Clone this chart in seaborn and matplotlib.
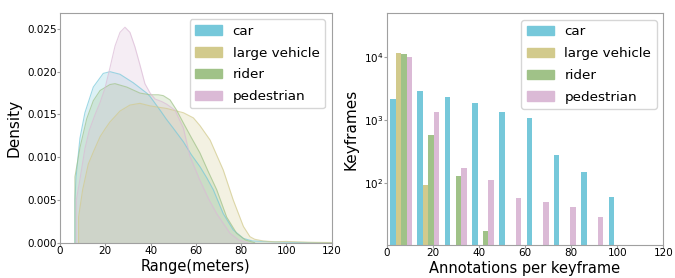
import numpy as np
import pandas as pd
import matplotlib
matplotlib.use("Agg")
import matplotlib.pyplot as plt
from matplotlib.patches import Patch
import seaborn as sns

classes = ["car", "large vehicle", "rider", "pedestrian"]
colors = ["#76c8da", "#d2ca8c", "#a0c288", "#dbbad6"]

# density curves (range in meters, density)
car_x = [6.6, 6.6, 7.1, 8.8, 11, 14.7, 19.1, 22.1, 26.5, 32.4, 38.3, 39.8, 44.2, 47.1, 50, 54.5, 58, 61.8, 64.8, 67.7, 72.1, 76.5, 81, 85, 95, 105, 120]
car_d = [0, 0.0050, 0.0077, 0.0122, 0.0152, 0.0182, 0.0198, 0.0200, 0.0197, 0.0187, 0.0175, 0.0171, 0.0155, 0.0144, 0.0134, 0.0118, 0.0103, 0.0089, 0.0076, 0.0062, 0.0034, 0.0015, 0.0005, 0.0002, 0.0001, 0.00003, 0]
lv_x = [8.2, 8.2, 10, 12.5, 14.7, 17.7, 19.9, 22, 26.5, 30.9, 35.3, 39.8, 47.1, 54.5, 58.9, 61.8, 66.3, 72.1, 76.5, 81, 83.9, 86, 89.8, 95, 100, 105, 110, 120]
lv_d = [0, 0.0030, 0.0062, 0.0092, 0.0106, 0.0124, 0.0133, 0.0141, 0.0154, 0.0161, 0.0163, 0.0160, 0.0157, 0.0152, 0.0146, 0.0137, 0.0120, 0.0085, 0.0050, 0.0019, 0.0007, 0.0004, 0.0002, 0.0001, 0.00015, 0.0001, 0.00005, 0.00002]
rider_x = [6.6, 6.6, 8.8, 11.8, 14.7, 17.7, 22.1, 24.3, 29.5, 35.3, 39.8, 43.4, 45.6, 48.6, 51.5, 54.5, 58, 61.8, 65.5, 69.2, 73.6, 78, 82, 86]
rider_d = [0, 0.0077, 0.0111, 0.0145, 0.0166, 0.0178, 0.0185, 0.0186, 0.0182, 0.0175, 0.0173, 0.0173, 0.0172, 0.0167, 0.0155, 0.0140, 0.0123, 0.0105, 0.0083, 0.0062, 0.0030, 0.0011, 0.0003, 0]
ped_x = [7.2, 7.2, 8.8, 11, 13, 15.5, 17.7, 19.9, 22.1, 24.3, 26.5, 28.7, 30.9, 33.1, 35.3, 37.5, 39.8, 42, 45, 47.1, 50.8, 54.5, 57.4, 61.8, 65.5, 69.2, 75.1, 79, 83]
ped_d = [0, 0.0050, 0.0074, 0.0110, 0.0132, 0.0150, 0.0164, 0.0181, 0.0205, 0.0230, 0.0246, 0.0252, 0.0246, 0.0229, 0.0208, 0.0186, 0.0175, 0.0168, 0.0165, 0.0162, 0.0155, 0.0134, 0.0101, 0.0073, 0.0052, 0.0034, 0.0011, 0.0003, 0]

# histogram of annotations per keyframe (right panel)
bin_edges = [0.3, 12.15, 24.0, 35.85, 47.7, 59.55, 71.4, 83.25, 95.1, 106.95]
car_frames = [2130, 2850, 2290, 1840, 1340, 1060, 272, 151, 60]
lv_frames = [11700, 92, 0, 0, 0, 0, 0, 0, 0]
rider_frames = [11000, 578, 129, 17, 0, 0, 0, 0, 0]
ped_frames = [10000, 1307, 171, 110, 58, 49, 41, 28.5, 0]

sns.set_style("white")
plt.rcParams["font.family"] = ["DejaVu Sans"]
plt.rcParams["text.color"] = "black"
plt.rcParams["axes.labelcolor"] = "black"
plt.rcParams["xtick.color"] = "#a0a0a0"
plt.rcParams["ytick.color"] = "#a0a0a0"
plt.rcParams["xtick.labelcolor"] = "black"
plt.rcParams["ytick.labelcolor"] = "black"

curves = pd.concat([
    pd.DataFrame({"range": x, "density": d, "cls": c})
    for c, x, d in zip(classes, [car_x, lv_x, rider_x, ped_x], [car_d, lv_d, rider_d, ped_d])
])

centers = [(a + b) / 2 for a, b in zip(bin_edges[:-1], bin_edges[1:])]
hist = pd.concat([
    pd.DataFrame({"annotations": centers, "keyframes": v, "cls": c})
    for c, v in zip(classes, [car_frames, lv_frames, rider_frames, ped_frames])
])

pal = dict(zip(classes, colors))

fig = plt.figure(figsize=(6.75, 2.78), dpi=100)
ax1 = fig.add_axes([0.0889, 0.127, 0.4025, 0.8273])
ax2 = fig.add_axes([0.5729, 0.1187, 0.4098, 0.8333])

# left: density
for c in classes:
    sub = curves[curves.cls == c]
    ax1.fill_between(sub["range"], sub["density"], color=pal[c], alpha=0.25, linewidth=0)
sns.lineplot(data=curves, x="range", y="density", hue="cls", palette=pal,
             sort=False, estimator=None, linewidth=0.8, alpha=0.7, legend=False, ax=ax1)
ax1.set_xlim(0, 120)
ax1.set_ylim(0, 0.0269)
ax1.set_yticks([0, 0.005, 0.01, 0.015, 0.02, 0.025])
ax1.set_yticklabels(["0.000", "0.005", "0.010", "0.015", "0.020", "0.025"])
ax1.set_xlabel("Range(meters)", fontsize=10.5, labelpad=2)
ax1.set_ylabel("Density", fontsize=11)

# right: histogram
sns.histplot(data=hist, x="annotations", weights="keyframes", hue="cls", hue_order=classes,
             bins=bin_edges, multiple="dodge", shrink=0.8, palette=pal, alpha=1,
             linewidth=0, legend=False, ax=ax2)
ax2.set_yscale("log")
ax2.set_xlim(0, 120)
ax2.set_ylim(10.3, 49000)
ax2.set_xlabel("Annotations per keyframe", fontsize=10.5, labelpad=2)
ax2.set_ylabel("Keyframes", fontsize=11)

handles = [Patch(facecolor=pal[c], edgecolor=pal[c], label=c) for c in classes]
for ax in (ax1, ax2):
    ax.set_xticks([0, 20, 40, 60, 80, 100, 120])
    ax.tick_params(labelsize=7.5, length=2, width=0.8, pad=0.5, bottom=True, left=True)
    ax.tick_params(axis="y", which="minor", length=0)
    for s in ax.spines.values():
        s.set_color("#a0a0a0")
        s.set_linewidth(0.8)
    ax.legend(handles=handles, loc="upper right", fontsize=9.7, frameon=True, labelspacing=0.65)

fig.savefig("out.png", dpi=100)
